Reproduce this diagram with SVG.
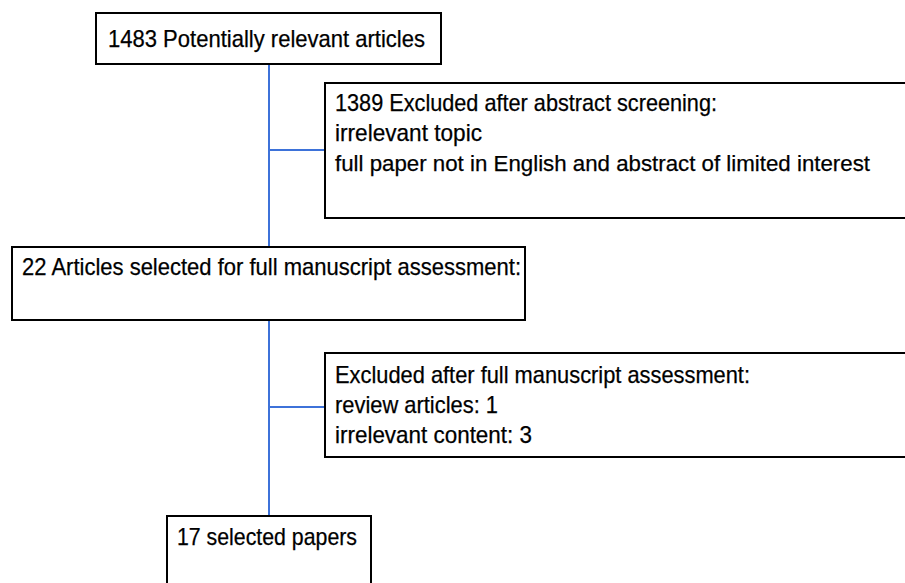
<svg xmlns="http://www.w3.org/2000/svg" width="905" height="583" viewBox="0 0 905 583">
<style>
.box{fill:#fff;stroke:#000;stroke-width:2}
.bg{fill:#fff;stroke:none}
.edge{fill:none;stroke:#000;stroke-width:2}
.t{font-family:"Liberation Sans",Arial,sans-serif;font-size:24px;fill:#000;stroke:#000;stroke-width:0.25}
.s{font-size:22.5px}
.c{stroke:#3d72d9;stroke-width:2;fill:none}
</style>
<rect width="905" height="583" fill="#fff"/>
<g id="connectors">
<line class="c" x1="269" y1="64" x2="269" y2="247"/>
<line class="c" x1="269" y1="150" x2="325" y2="150"/>
<line class="c" x1="269" y1="320" x2="269" y2="516"/>
<line class="c" x1="269" y1="407" x2="325" y2="407"/>
</g>
<g id="n1">
<rect class="box" x="96" y="13" width="345" height="51"/>
<text class="t" x="108" y="47" textLength="317" lengthAdjust="spacingAndGlyphs">1483 Potentially relevant articles</text>
</g>
<g id="n2">
<rect class="bg" x="325" y="83" width="580" height="135"/>
<path class="edge" d="M905,83 H325 V218 H905"/>
<text class="t" x="335" y="111" textLength="382" lengthAdjust="spacingAndGlyphs">1389 Excluded after abstract screening:</text>
<text class="t" x="335" y="141" textLength="147" lengthAdjust="spacingAndGlyphs">irrelevant topic</text>
<text class="t s" x="335" y="171" textLength="535" lengthAdjust="spacingAndGlyphs">full paper not in English and abstract of limited interest</text>
</g>
<g id="n3">
<rect class="box" x="12" y="247" width="513" height="73"/>
<text class="t" x="22" y="275" textLength="499" lengthAdjust="spacingAndGlyphs">22 Articles selected for full manuscript assessment:</text>
</g>
<g id="n4">
<rect class="bg" x="325" y="353" width="580" height="104"/>
<path class="edge" d="M905,353 H325 V457 H905"/>
<text class="t" x="335" y="383" textLength="415" lengthAdjust="spacingAndGlyphs">Excluded after full manuscript assessment:</text>
<text class="t" x="335" y="413" textLength="163" lengthAdjust="spacingAndGlyphs">review articles: 1</text>
<text class="t" x="335" y="443" textLength="197" lengthAdjust="spacingAndGlyphs">irrelevant content: 3</text>
</g>
<g id="n5">
<rect class="bg" x="167" y="516" width="204" height="67"/>
<path class="edge" d="M167,583 V516 H371 V583"/>
<text class="t" x="177" y="545" textLength="180" lengthAdjust="spacingAndGlyphs">17 selected papers</text>
</g>
</svg>
